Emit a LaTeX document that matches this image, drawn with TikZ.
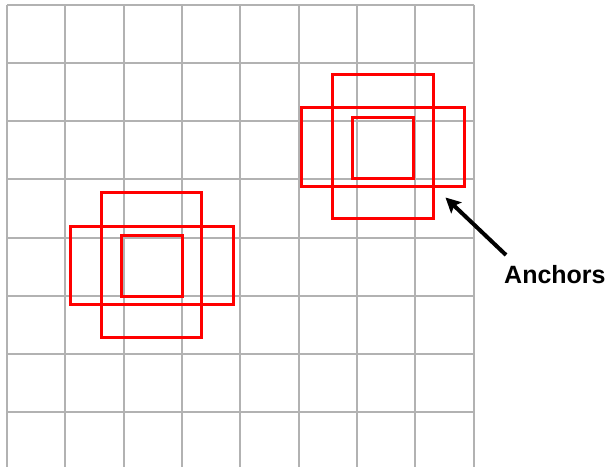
\documentclass[tikz,border=0pt]{standalone}
\usepackage{fontspec}
\setmainfont{Liberation Sans}
\usetikzlibrary{arrows.meta}
\definecolor{gridgray}{RGB}{178,178,178}
\definecolor{boxred}{RGB}{255,0,0}
\tikzset{
  gridline/.style={draw=gridgray, line width=2pt},
  anchorbox/.style={draw=boxred, line width=3pt},
  pointer/.style={draw=black, line width=4pt, -{Stealth[length=15pt,width=15pt,inset=3pt]}},
  lbltext/.style={font=\bfseries\fontsize{25}{30}\selectfont, inner sep=0pt, anchor=base west}
}
\begin{document}
\begin{tikzpicture}[x=1pt,y=-1pt]
\useasboundingbox (0,0) rectangle (610,467);
% grid
\foreach \i in {0,...,8} {
  \draw[gridline] ({7+58.35*\i},4.7) -- ({7+58.35*\i},467);
}
\foreach \j in {0,...,7} {
  \draw[gridline] (7,{4.7+58.2*\j}) -- (473.8,{4.7+58.2*\j});
}
% top-right anchors
\draw[anchorbox] (332.7,74) rectangle (433.3,218.7);
\draw[anchorbox] (301.7,107.7) rectangle (464.3,186);
\draw[anchorbox] (352.3,117.7) rectangle (413.7,178.3);
% bottom-left anchors
\draw[anchorbox] (101.7,192.3) rectangle (201.7,337.7);
\draw[anchorbox] (70,226) rectangle (233.3,304);
\draw[anchorbox] (121,235) rectangle (182.7,296.7);
% label and arrow
\node[lbltext] (lbl) at (504,283) {Anchors};
\coordinate (tail) at (506,255);
\coordinate (tip) at (445.5,197.5);
\draw[pointer] (tail) -- (tip);
\end{tikzpicture}
\end{document}
